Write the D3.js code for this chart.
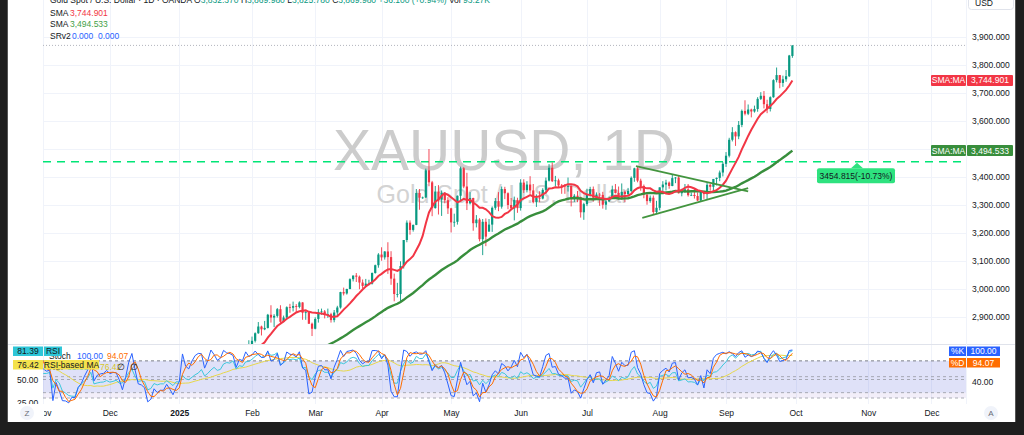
<!DOCTYPE html>
<html><head><meta charset="utf-8">
<script src="https://cdn.jsdelivr.net/npm/d3@7"></script>
<style>
html,body{margin:0;padding:0;background:#1e1e1e;overflow:hidden}
svg{display:block}
text{font-family:"Liberation Sans",Arial,sans-serif}
</style>
</head><body>
<svg id="c" width="1024" height="435"></svg>
<script>
// ---------------- DATA (daily bars, weekdays from 2024-10-01 to 2025-09-30) ----------------
const firstDay = "2024-10-01";
const opens = [
 // Oct 2024
 2635,2663,2657,2656,2653,2644,2622,2608,2630,2657,2649,2662,2674,2692,2721,2720,2748,2715,2736,2747,2743,2774,2788,
 // Nov
 2744,2736,2736,2742,2659,2706,2685,2619,2598,2572,2565,2563,2611,2631,2651,2670,2715,2626,2633,2638,2640,
 // Dec
 2650,2639,2643,2650,2632,2633,2660,2694,2718,2680,2648,2652,2646,2587,2594,2622,2612,2618,2618,2634,2621,2606,
 // Jan 2025
 2624,2624,2658,2640,2636,2648,2661,2670,2690,2663,2677,2697,2714,2702,2708,2744,2755,2753,2770,2740,2763,2760,2794,
 // Feb
 2798,2815,2842,2866,2856,2861,2908,2898,2904,2928,2883,2898,2935,2933,2939,2936,2952,2915,2917,2876,
 // Mar
 2858,2893,2918,2920,2910,2910,2889,2916,2934,2989,2984,3000,3035,3048,3044,3023,3011,3019,3019,3057,3085,
 // Apr
 3123,3113,3134,3114,3037,2982,2982,3082,3175,3237,3211,3229,3343,3326,3327,3424,3381,3289,3348,3319,3343,3317,
 // May
 3288,3238,3240,3333,3431,3366,3306,3325,3235,3248,3178,3240,3205,3230,3290,3314,3294,3357,3342,3300,3288,3318,
 // Jun
 3289,3380,3353,3373,3352,3310,3326,3323,3354,3387,3433,3385,3388,3370,3369,3368,3368,3323,3333,3328,3274,
 // Jul
 3303,3338,3357,3326,3337,3336,3301,3313,3325,3355,3343,3324,3347,3339,3350,3397,3431,3387,3368,3337,3314,3326,3275,
 // Aug
 3290,3363,3373,3380,3368,3396,3398,3342,3348,3356,3335,3336,3332,3316,3347,3339,3372,3365,3393,3397,3416,
 // Sep
 3447,3476,3533,3560,3545,3586,3636,3626,3641,3634,3643,3679,3690,3660,3643,3685,3746,3764,3736,3749,3760,3832.37
];
const highs = [
 2673,2669,2665,2670,2658,2645,2625,2635,2661,2660,2666,2679,2695,2722,2740,2749,2758,2740,2749,2749,2774,2790,2790,
 2761,2746,2750,2750,2710,2710,2688,2626,2618,2575,2576,2615,2639,2656,2674,2721,2721,2636,2660,2646,2665,
 2651,2648,2657,2656,2645,2667,2697,2726,2722,2683,2663,2656,2660,2610,2632,2625,2620,2620,2639,2637,2627,2630,
 2628,2664,2665,2649,2660,2670,2675,2697,2694,2679,2697,2725,2725,2711,2745,2763,2759,2786,2772,2764,2771,2799,2817,
 2830,2845,2882,2869,2886,2911,2942,2910,2932,2942,2905,2938,2947,2955,2946,2956,2953,2925,2918,2880,
 2899,2928,2930,2925,2930,2915,2925,2940,2990,3005,3001,3038,3048,3057,3048,3034,3036,3033,3059,3087,3128,
 3149,3135,3167,3135,3055,3022,3099,3175,3245,3245,3230,3357,3357,3330,3430,3500,3386,3368,3371,3352,3346,3328,
 3290,3269,3334,3437,3435,3415,3346,3326,3264,3253,3250,3252,3250,3295,3325,3346,3366,3365,3345,3325,3330,3326,
 3392,3392,3385,3403,3375,3338,3349,3360,3398,3446,3452,3404,3394,3375,3375,3398,3370,3339,3350,3330,3308,
 3358,3365,3366,3345,3343,3347,3317,3330,3369,3375,3366,3377,3352,3361,3402,3433,3438,3394,3373,3345,3334,3334,3315,
 3363,3385,3390,3384,3408,3400,3405,3358,3375,3375,3345,3358,3345,3350,3351,3379,3376,3393,3398,3423,3453,
 3489,3540,3578,3563,3600,3641,3674,3659,3644,3655,3685,3703,3707,3676,3688,3749,3791,3764,3762,3782,3836,3869.98
];
const lows = [
 2625,2643,2642,2639,2637,2605,2605,2604,2628,2638,2638,2654,2663,2690,2712,2714,2709,2712,2722,2729,2736,2770,2731,
 2732,2730,2724,2652,2654,2678,2610,2589,2570,2536,2554,2562,2604,2625,2643,2668,2605,2603,2625,2626,2637,
 2622,2630,2632,2614,2613,2630,2655,2690,2676,2643,2640,2634,2583,2583,2584,2603,2608,2615,2616,2614,2597,2605,
 2620,2623,2636,2615,2630,2645,2654,2664,2656,2661,2671,2690,2699,2697,2700,2741,2743,2752,2730,2738,2750,2756,2775,
 2772,2809,2840,2834,2853,2859,2880,2864,2898,2875,2881,2891,2915,2920,2918,2931,2890,2890,2875,2832,
 2856,2880,2908,2895,2897,2880,2881,2905,2930,2977,2980,2999,3027,3025,2999,3002,3010,3013,3016,3055,3076,
 3101,3105,3054,3015,2956,2970,2957,3073,3167,3194,3205,3228,3283,3322,3325,3367,3260,3287,3266,3261,3306,3268,
 3202,3222,3230,3314,3360,3282,3302,3208,3220,3170,3121,3153,3205,3204,3283,3278,3287,3321,3285,3285,3245,3272,
 3280,3343,3345,3340,3306,3293,3310,3320,3340,3384,3382,3366,3362,3340,3340,3348,3295,3311,3310,3255,3247,
 3296,3330,3312,3322,3297,3287,3283,3310,3322,3341,3320,3319,3310,3332,3345,3383,3381,3351,3324,3301,3308,3268,3268,
 3281,3346,3352,3358,3367,3378,3341,3331,3343,3330,3332,3323,3314,3311,3322,3321,3351,3351,3370,3385,3402,
 3436,3470,3527,3511,3535,3578,3620,3621,3613,3630,3633,3675,3645,3628,3634,3683,3738,3717,3722,3740,3757,3825.78
];
const closes = [
 2663,2657,2656,2653,2644,2622,2608,2630,2657,2649,2662,2674,2692,2721,2720,2748,2715,2736,2747,2743,2774,2788,2744,
 2736,2736,2742,2659,2706,2685,2619,2598,2572,2565,2563,2611,2631,2651,2670,2715,2626,2633,2638,2640,2650,
 2639,2643,2650,2632,2633,2660,2694,2718,2680,2648,2652,2646,2587,2594,2622,2612,2618,2618,2634,2621,2606,2624,
 2624,2658,2640,2636,2648,2661,2670,2690,2663,2677,2697,2714,2702,2708,2744,2755,2753,2770,2740,2763,2760,2794,2798,
 2815,2842,2866,2856,2861,2908,2898,2904,2928,2883,2898,2935,2933,2939,2936,2952,2915,2917,2876,2858,
 2893,2918,2920,2910,2910,2889,2916,2934,2989,2984,3000,3035,3048,3044,3023,3011,3019,3019,3057,3085,3123,
 3113,3134,3114,3037,2982,2982,3082,3175,3237,3211,3229,3343,3326,3327,3424,3381,3289,3348,3319,3343,3317,3288,
 3238,3240,3333,3431,3366,3306,3325,3235,3248,3178,3240,3187,3230,3290,3314,3294,3357,3342,3300,3288,3318,3289,
 3380,3353,3373,3352,3310,3326,3323,3354,3387,3433,3385,3388,3370,3369,3368,3368,3323,3333,3328,3274,3303,
 3338,3357,3326,3337,3336,3301,3313,3325,3355,3343,3324,3347,3339,3350,3397,3431,3387,3368,3337,3314,3326,3275,3290,
 3363,3373,3380,3368,3396,3398,3342,3348,3356,3335,3336,3332,3316,3347,3339,3372,3365,3393,3397,3416,3447,
 3476,3533,3560,3545,3586,3636,3626,3641,3634,3643,3679,3690,3660,3643,3685,3746,3764,3736,3749,3760,3833.88,3869.98
];
const monthLabels = ["Nov","Dec","2025","Feb","Mar","Apr","May","Jun","Jul","Aug","Sep","Oct","Nov","Dec"];
const priceTicks = [2900,3000,3100,3200,3300,3400,3500,3600,3700,3800,3900];
const smaFast = 10, smaSlow = 50, rsiLen = 14, rsiMaLen = 14, stochLen = 14, stochD = 3;
const hLevel = 3454.815;
const hLevelLabel = "3454.815(-10.73%)";
// triangle trend lines: [bar index, price]
const trendUpper = [[210.5, 3439], [246, 3349]];
const trendLower = [[212.5, 3254], [246, 3360]];
const headerText = "Gold Spot / U.S. Dollar · 1D · OANDA";
const ohlcText = [["O","3,832.370"],["H","3,869.980"],["L","3,825.780"],["C","3,869.980"]];
const changeText = "+36.100 (+0.94%)";
const volText = ["Vol","93.27K"];
const smaFastText = "3,744.901", smaSlowText = "3,494.533";
const stochText = ["100.00","94.07"], rsiText = ["81.39","76.42"];

// ---------------- CALENDAR ----------------
const days = [];
{
  const d = new Date(firstDay + "T00:00:00Z");
  const end = new Date("2025-12-31T00:00:00Z");
  while (d <= end) { const w = d.getUTCDay(); if (w > 0 && w < 6) days.push(new Date(d)); d.setUTCDate(d.getUTCDate() + 1); }
}
const N = closes.length;

// ---------------- INDICATORS ----------------
function sma(arr, n) {
  return arr.map((v, i) => {
    if (i < n - 1) return null;
    const w = arr.slice(i - n + 1, i + 1);
    if (w.some(x => x == null)) return null;
    return d3.mean(w);
  });
}
function rsi(c, n) {
  const out = new Array(c.length).fill(null);
  let g = 0, l = 0;
  for (let i = 1; i <= n; i++) { const d = c[i] - c[i - 1]; if (d > 0) g += d; else l -= d; }
  g /= n; l /= n; out[n] = 100 - 100 / (1 + g / l);
  for (let i = n + 1; i < c.length; i++) {
    const d = c[i] - c[i - 1];
    g = (g * (n - 1) + Math.max(d, 0)) / n; l = (l * (n - 1) + Math.max(-d, 0)) / n;
    out[i] = l === 0 ? 100 : 100 - 100 / (1 + g / l);
  }
  return out;
}
const sFast = sma(closes, smaFast), sSlow = sma(closes, smaSlow);
const rsiV = rsi(closes, rsiLen), rsiMa = sma(rsiV, rsiMaLen);
const kV = closes.map((c, i) => {
  if (i < stochLen - 1) return null;
  const hh = d3.max(highs.slice(i - stochLen + 1, i + 1)), ll = d3.min(lows.slice(i - stochLen + 1, i + 1));
  return 100 * (c - ll) / (hh - ll);
});
const dV = sma(kV, stochD);

// ---------------- LAYOUT ----------------
const svg = d3.select("#c");
const PL = 43, PR = 966, MT = 0, MB = 344, OT = 345, OB = 404;
const x = d3.scaleLinear().domain([89, 260]).range([252, 792.4]);
const y = d3.scaleLinear().domain([2900, 3900]).range([317, 37]);
const yRsi = d3.scaleLinear().domain([30, 70]).range([398, 361]);
const ySto = d3.scaleLinear().domain([40, 100]).range([382, 350]);
const UP = "#089981", DN = "#f23645";
const font = 8.5;

const defs = svg.append("defs");
defs.append("clipPath").attr("id", "cm").append("rect").attr("x", PL).attr("y", MT).attr("width", PR - PL).attr("height", MB - MT);
defs.append("clipPath").attr("id", "co").append("rect").attr("x", PL).attr("y", OT).attr("width", PR - PL).attr("height", OB - OT);
defs.append("clipPath").attr("id", "ct").append("rect").attr("x", 44).attr("y", OB).attr("width", PR - 44).attr("height", 20);
defs.append("clipPath").attr("id", "cl").append("rect").attr("x", 8).attr("y", OT).attr("width", 35).attr("height", OB - OT);

// white panel
svg.append("rect").attr("x", 8).attr("y", 0).attr("width", 1007).attr("height", 422).attr("fill", "#ffffff");
svg.append("line").attr("x1", 7.5).attr("x2", 7.5).attr("y1", 0).attr("y2", 422).attr("stroke", "#555");
svg.append("line").attr("x1", 1015.5).attr("x2", 1015.5).attr("y1", 0).attr("y2", 422).attr("stroke", "#555");

// month ticks
const tickIdx = [];
days.forEach((d, i) => { if (i > 0 && d.getUTCMonth() !== days[i - 1].getUTCMonth()) tickIdx.push(i); });
const vis = tickIdx.filter(i => x(i) > 30 && x(i) < PR);

// grid
const grid = svg.append("g").attr("stroke", "#f0f3fa").attr("stroke-width", 1);
vis.forEach(i => grid.append("line").attr("x1", Math.round(x(i)) + .5).attr("x2", Math.round(x(i)) + .5).attr("y1", 0).attr("y2", OB));
priceTicks.forEach(p => grid.append("line").attr("x1", PL).attr("x2", PR).attr("y1", Math.round(y(p)) + .5).attr("y2", Math.round(y(p)) + .5));

// watermark
svg.append("text").attr("x", 504).attr("y", 170).attr("text-anchor", "middle").attr("font-size", 57)
  .attr("fill", "#cccccc").text("XAUUSD, 1D");
svg.append("text").attr("x", 503).attr("y", 203).attr("text-anchor", "middle").attr("font-size", 25)
  .attr("fill", "#d3d3d3").text("Gold Spot / U.S. Dollar");

// separators
svg.append("line").attr("x1", 8).attr("x2", 1015).attr("y1", MB + .5).attr("y2", MB + .5).attr("stroke", "#e0e3eb");
svg.append("line").attr("x1", PR + .5).attr("x2", PR + .5).attr("y1", 0).attr("y2", OB).attr("stroke", "#f0f3fa");

// ---------------- MAIN PANE ----------------
const main = svg.append("g").attr("clip-path", "url(#cm)");
// last price dotted line
main.append("line").attr("x1", PL).attr("x2", PR).attr("y1", y(closes[N - 1])).attr("y2", y(closes[N - 1]))
  .attr("stroke", "#b2b5be").attr("stroke-dasharray", "1,2");
// green dashed level
main.append("line").attr("x1", PL).attr("x2", PR).attr("y1", y(hLevel)).attr("y2", y(hLevel))
  .attr("stroke", "#00e676").attr("stroke-width", 1.5).attr("stroke-dasharray", "8,6");

const idx = d3.range(N);
const cg = main.append("g");
cg.selectAll("line.w").data(idx).join("line").attr("class", "w")
  .attr("x1", i => x(i)).attr("x2", i => x(i)).attr("y1", i => y(highs[i])).attr("y2", i => y(lows[i]))
  .attr("stroke", i => closes[i] >= opens[i] ? UP : DN).attr("stroke-width", 0.9);
cg.selectAll("rect.b").data(idx).join("rect").attr("class", "b")
  .attr("x", i => x(i) - 1.1).attr("width", 2.2)
  .attr("y", i => y(Math.max(opens[i], closes[i])))
  .attr("height", i => Math.max(0.8, Math.abs(y(opens[i]) - y(closes[i]))))
  .attr("fill", i => closes[i] >= opens[i] ? UP : DN);

const lineOf = (arr, sc) => d3.line().defined(i => arr[i] != null).x(i => x(i)).y(i => sc(arr[i]));
main.append("path").attr("d", lineOf(sSlow, y)(idx)).attr("fill", "none").attr("stroke", "#388e3c").attr("stroke-width", 2.4);
main.append("path").attr("d", lineOf(sFast, y)(idx)).attr("fill", "none").attr("stroke", "#f23645").attr("stroke-width", 2);

// trend lines
[trendUpper, trendLower].forEach(t => main.append("line")
  .attr("x1", x(t[0][0])).attr("y1", y(t[0][1])).attr("x2", x(t[1][0])).attr("y2", y(t[1][1]))
  .attr("stroke", "#43953f").attr("stroke-width", 1.8));

// level label
{
  const ly = y(hLevel);
  const g = svg.append("g");
  g.append("path").attr("d", `M851,${ly + 6.5} L857,${ly + 1} L863,${ly + 6.5} Z`).attr("fill", "#2ee27f");
  g.append("rect").attr("x", 817).attr("y", ly + 6.5).attr("width", 78).attr("height", 15).attr("rx", 2).attr("fill", "#2ee27f");
  g.append("text").attr("x", 856).attr("y", ly + 17).attr("text-anchor", "middle").attr("font-size", font)
    .attr("fill", "#131722").text(hLevelLabel);
}

// ---------------- PRICE AXIS ----------------
const pax = svg.append("g").attr("transform", `translate(972,0)`)
  .call(d3.axisRight(y).tickValues(priceTicks).tickFormat(d3.format(",.3f")).tickSize(0).tickPadding(0));
pax.select(".domain").remove();
pax.selectAll("text").attr("font-size", font).attr("fill", "#131722").attr("font-family", "Liberation Sans, Arial, sans-serif");

function axisTag(yc, label, value, color, lx, vw) {
  const g = svg.append("g");
  g.append("rect").attr("x", lx).attr("y", yc - 5.5).attr("width", 966 - lx).attr("height", 11).attr("fill", color).attr("rx", 1);
  g.append("rect").attr("x", 967).attr("y", yc - 5.5).attr("width", vw).attr("height", 11).attr("fill", color).attr("rx", 1);
  g.append("text").attr("x", (lx + 966) / 2).attr("y", yc + 3).attr("text-anchor", "middle").attr("font-size", font).attr("fill", "#fff").text(label);
  g.append("text").attr("x", 967 + vw / 2).attr("y", yc + 3).attr("text-anchor", "middle").attr("font-size", font).attr("fill", "#fff").text(value);
}
axisTag(y(+smaFastText.replace(/,/g, "")), "SMA:MA", smaFastText, "#f23645", 931, 46);
axisTag(y(+smaSlowText.replace(/,/g, "")), "SMA:MA", smaSlowText, "#388e3c", 931, 46);

// USD box
svg.append("rect").attr("x", 968.5).attr("y", -3.5).attr("width", 45).attr("height", 13).attr("rx", 3)
  .attr("fill", "#fff").attr("stroke", "#e0e3eb");
svg.append("text").attr("x", 975).attr("y", 6).attr("font-size", font).attr("fill", "#131722").text("USD");

// ---------------- OSCILLATOR PANE ----------------
const osc = svg.append("g").attr("clip-path", "url(#co)");
osc.append("rect").attr("x", PL).attr("width", PR - PL).attr("y", yRsi(70)).attr("height", yRsi(30) - yRsi(70))
  .attr("fill", "rgba(126,87,194,0.10)");
osc.append("rect").attr("x", PL).attr("width", PR - PL).attr("y", ySto(80)).attr("height", ySto(20) - ySto(80))
  .attr("fill", "rgba(33,100,243,0.09)");
[[yRsi, 70], [yRsi, 50], [yRsi, 30], [ySto, 80], [ySto, 50], [ySto, 20]].forEach(([s, v]) =>
  osc.append("line").attr("x1", PL).attr("x2", PR).attr("y1", s(v)).attr("y2", s(v))
    .attr("stroke", "#9598a1").attr("stroke-width", 0.8).attr("stroke-dasharray", "3,3"));
osc.append("path").attr("d", lineOf(rsiMa, yRsi)(idx)).attr("fill", "none").attr("stroke", "#e8d84a").attr("stroke-width", 1);
osc.append("path").attr("d", lineOf(rsiV, yRsi)(idx)).attr("fill", "none").attr("stroke", "#3cc8dc").attr("stroke-width", 1);
osc.append("path").attr("d", lineOf(kV, ySto)(idx)).attr("fill", "none").attr("stroke", "#2962ff").attr("stroke-width", 1);
osc.append("path").attr("d", lineOf(dV, ySto)(idx)).attr("fill", "none").attr("stroke", "#ff6d00").attr("stroke-width", 1);

// oscillator legends
{
  const t1 = svg.append("text").attr("x", 49).attr("y", 359).attr("font-size", font).attr("fill", "#131722");
  t1.append("tspan").text("Stoch");
  t1.append("tspan").attr("x", 77).attr("fill", "#2962ff").text(stochText[0]);
  t1.append("tspan").attr("x", 107).attr("fill", "#ff6d00").text(stochText[1]);
  const t2 = svg.append("text").attr("x", 49).attr("y", 369.5).attr("font-size", font).attr("fill", "#131722");
  t2.append("tspan").text("RSI");
  t2.append("tspan").attr("x", 67).attr("fill", "#3cc8dc").text(rsiText[0]);
  t2.append("tspan").attr("x", 100).attr("fill", "#d8c62a").text(rsiText[1]);
  t2.append("tspan").attr("x", 117).text("∅");
  t2.append("tspan").attr("x", 130).text("∅");
}
// left axis tags
function leftTag(yt, val, lab, color, lw) {
  svg.append("rect").attr("x", 13).attr("y", yt).attr("width", 30).attr("height", 9.5).attr("fill", color);
  svg.append("rect").attr("x", 44).attr("y", yt).attr("width", lw).attr("height", 9.5).attr("fill", color);
  svg.append("text").attr("x", 28).attr("y", yt + 7.5).attr("text-anchor", "middle").attr("font-size", font).attr("fill", "#131722").text(val);
  svg.append("text").attr("x", 44 + lw / 2).attr("y", yt + 7.5).attr("text-anchor", "middle").attr("font-size", font).attr("fill", "#131722").text(lab);
}
const lax = svg.append("g").attr("clip-path", "url(#cl)");
[50, 25].forEach(v => lax.append("text").attr("x", 17).attr("y", yRsi(v) + 3).attr("font-size", font).attr("fill", "#131722").text(v.toFixed(2)));
leftTag(346.5, rsiText[0], "RSI", "#2ec6d8", 18);
leftTag(360, rsiText[1], "RSI-based MA", "#f4e24c", 55);

// right oscillator tags
svg.append("text").attr("x", 972).attr("y", ySto(40) + 3).attr("font-size", font).attr("fill", "#131722").text("40.00");
function rightTag(yt, lab, val, color) {
  svg.append("rect").attr("x", 949).attr("y", yt).attr("width", 17).attr("height", 9.5).attr("fill", color);
  svg.append("rect").attr("x", 967).attr("y", yt).attr("width", 33).attr("height", 9.5).attr("fill", color);
  svg.append("text").attr("x", 957.5).attr("y", yt + 7.5).attr("text-anchor", "middle").attr("font-size", font).attr("fill", "#fff").text(lab);
  svg.append("text").attr("x", 983.5).attr("y", yt + 7.5).attr("text-anchor", "middle").attr("font-size", font).attr("fill", "#fff").text(val);
}
rightTag(346.5, "%K", stochText[0], "#2962ff");
rightTag(358, "%D", stochText[1], "#ff6d00");

// ---------------- TIME AXIS ----------------
const tax = svg.append("g").attr("clip-path", "url(#ct)").append("g").attr("transform", `translate(0,${OB})`)
  .call(d3.axisBottom(x).tickValues(vis).tickFormat((d, i) => monthLabels[i]).tickSize(0).tickPadding(6));
tax.select(".domain").remove();
tax.selectAll("text").attr("font-size", font).attr("fill", "#131722").attr("font-family", "Liberation Sans, Arial, sans-serif")
  .attr("font-weight", (d, i) => monthLabels[i] === "2025" ? "bold" : "normal");

// Z / A buttons
[[27, "Z"], [991, "A"]].forEach(([cx, t]) => {
  svg.append("circle").attr("cx", cx).attr("cy", 413).attr("r", 7).attr("fill", "#f0f3fa");
  svg.append("text").attr("x", cx).attr("y", 416).attr("text-anchor", "middle").attr("font-size", 8).attr("fill", "#6a6d78").text(t);
});

// ---------------- HEADER LEGEND ----------------
{
  const h = svg.append("text").attr("x", 50).attr("y", 3).attr("font-size", font).attr("fill", "#131722");
  h.append("tspan").text(headerText + "  ");
  ohlcText.forEach(([k, v]) => { h.append("tspan").text(" " + k); h.append("tspan").attr("fill", UP).text(v); });
  h.append("tspan").attr("fill", UP).text(" " + changeText);
  h.append("tspan").text(" " + volText[0] + " ");
  h.append("tspan").attr("fill", UP).text(volText[1]);
  const rows = [["SMA", smaFastText, "#f23645", 16], ["SMA", smaSlowText, "#43a047", 27.3]];
  rows.forEach(([a, b, c, yy]) => {
    const t = svg.append("text").attr("x", 50).attr("y", yy).attr("font-size", font).attr("fill", "#131722");
    t.append("tspan").text(a);
    t.append("tspan").attr("x", 70).attr("fill", c).text(b);
  });
  const t = svg.append("text").attr("x", 50).attr("y", 38.5).attr("font-size", font).attr("fill", "#131722");
  t.append("tspan").text("SRv2");
  t.append("tspan").attr("x", 72).attr("fill", "#2962ff").text("0.000");
  t.append("tspan").attr("x", 98).attr("fill", "#2962ff").text("0.000");
}
</script>
</body></html>
